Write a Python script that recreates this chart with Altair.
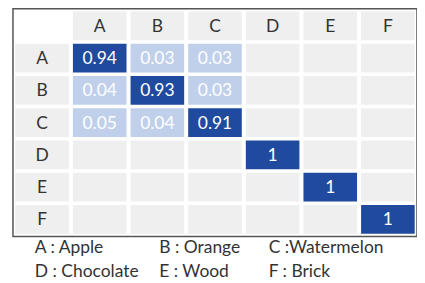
import altair as alt
import pandas as pd

labels = ["A", "B", "C", "D", "E", "F"]
# confusion matrix values (row = actual, col = predicted); None = empty cell
values = [
    [0.94, 0.03, 0.03, None, None, None],
    [0.04, 0.93, 0.03, None, None, None],
    [0.05, 0.04, 0.91, None, None, None],
    [None, None, None, 1, None, None],
    [None, None, None, None, 1, None],
    [None, None, None, None, None, 1],
]
legend_lines = [
    ["A : Apple", "B : Orange", "C :Watermelon"],
    ["D : Chocolate", "E : Wood", "F : Brick"],
]

HDR = " "
domain = [HDR] + labels

cells = []
for i, r in enumerate(labels):
    for j, c in enumerate(labels):
        v = values[i][j]
        if v is None:
            lvl, txt = "empty", ""
        elif v >= 0.5:
            lvl, txt = "high", (str(int(v)) if v == 1 else f"{v:.2f}")
        else:
            lvl, txt = "low", f"{v:.2f}"
        cells.append({"row": r, "col": c, "level": lvl, "txt": txt})
for lab in labels:
    cells.append({"row": HDR, "col": lab, "level": "empty", "txt": ""})
    cells.append({"row": lab, "col": HDR, "level": "empty", "txt": ""})
cells_df = pd.DataFrame(cells)

hdr_df = pd.DataFrame(
    [{"row": HDR, "col": lab, "txt": lab} for lab in labels]
    + [{"row": lab, "col": HDR, "txt": lab} for lab in labels]
)

FONT = "Lato"
FS = 17.5
W, H = 406, 229

xs = alt.Scale(domain=domain, paddingInner=0.07, paddingOuter=0.04)
ys = alt.Scale(domain=domain, paddingInner=0.11, paddingOuter=0.09)

base_x = alt.X("col:N", scale=xs, axis=None)
base_y = alt.Y("row:N", scale=ys, axis=None)

rects = alt.Chart(cells_df).mark_rect().encode(
    x=base_x,
    y=base_y,
    color=alt.Color(
        "level:N",
        scale=alt.Scale(domain=["high", "low", "empty"],
                        range=["#1f4a9e", "#c0d0eb", "#efefef"]),
        legend=None,
    ),
)

vals = alt.Chart(cells_df).mark_text(font=FONT, fontSize=FS, color="white", dy=1).encode(
    x=base_x, y=base_y, text="txt:N"
)

hdrs = alt.Chart(hdr_df).mark_text(font=FONT, fontSize=FS, color="#333333", dy=1).encode(
    x=base_x, y=base_y, text="txt:N"
)

legend_x = [22, 147, 257]
legend_y = [241, 265]
leg_layers = []
for li, line in enumerate(legend_lines):
    for ci, t in enumerate(line):
        leg_layers.append(
            alt.Chart(pd.DataFrame({"t": [t]})).mark_text(
                font=FONT, fontSize=FS, color="#333333", align="left", baseline="middle"
            ).encode(x=alt.value(legend_x[ci]), y=alt.value(legend_y[li]), text="t:N")
        )

chart = alt.layer(rects, vals, hdrs, *leg_layers).properties(
    width=W, height=H, padding={"left": 5, "top": 0, "right": 0, "bottom": 0}
).configure_view(stroke="#555555", strokeWidth=1.5)

chart.save("out.html", embed_options={"renderer": "svg", "actions": False})
